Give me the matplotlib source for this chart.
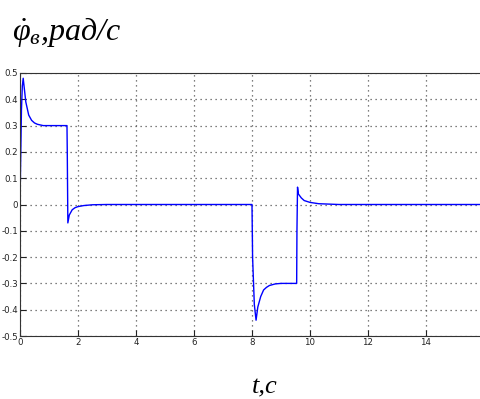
import matplotlib
matplotlib.use('Agg')
import matplotlib.pyplot as plt

# angular velocity response
t = [0, 0.02, 0.05, 0.08, 0.11, 0.15, 0.2, 0.3, 0.4, 0.5, 0.6, 0.8, 1.0,
     1.62, 1.63, 1.65, 1.7, 1.8, 1.9, 2.0, 2.2, 2.5, 3.0,
     8.0, 8.02, 8.08, 8.14, 8.2, 8.3, 8.4, 8.5, 8.6, 8.8, 9.0,
     9.54, 9.55, 9.57, 9.6, 9.7, 9.8, 10.0, 10.3, 11.0, 16.0]
w = [0, 0.15, 0.36, 0.45, 0.48, 0.44, 0.39, 0.34, 0.32, 0.31, 0.305, 0.30, 0.30,
     0.30, 0.20, -0.07, -0.04, -0.02, -0.012, -0.008, -0.004, -0.001, 0,
     0, -0.20, -0.38, -0.44, -0.39, -0.35, -0.325, -0.315, -0.308, -0.302, -0.30,
     -0.30, -0.10, 0.066, 0.04, 0.025, 0.015, 0.008, 0.003, 0, 0]

xticks = [0, 2, 4, 6, 8, 10, 12, 14]
yticks = [-0.5, -0.4, -0.3, -0.2, -0.1, 0, 0.1, 0.2, 0.3, 0.4, 0.5]
ylabels = ['-0.5', '-0.4', '-0.3', '-0.2', '-0.1', '0', '0.1', '0.2', '0.3', '0.4', '0.5']

plt.rcParams['mathtext.fontset'] = 'custom'
plt.rcParams['mathtext.it'] = 'Liberation Serif:italic'
plt.rcParams['mathtext.rm'] = 'Liberation Serif'

fig = plt.figure(figsize=(4.81, 3.99), dpi=100)
ax = fig.add_axes([20 / 481, 63 / 399, 464 / 481, 263 / 399])

ax.plot(t, w, color='#0000ff', linewidth=1.0)

ax.set_xlim(0, 16)
ax.set_ylim(-0.5, 0.5)
ax.set_xticks(xticks)
ax.set_yticks(yticks)
ax.set_yticklabels(ylabels)
ax.tick_params(direction='in', length=4, labelsize=6.2, pad=1.5, colors='#222222')
ax.grid(True, color='#555555', linestyle=(0, (1, 3)), linewidth=0.9)
for s in ax.spines.values():
    s.set_color('#333333')

fig.text(12 / 481, 1 - 40 / 399, r'$\dot{\varphi}_{\mathit{в}}$' + ',' + 'рад/с',
         fontfamily='Liberation Serif', fontstyle='italic', fontsize=23)
fig.text(265 / 481, 1 - 393 / 399, 't,c', ha='center',
         fontfamily='Liberation Serif', fontstyle='italic', fontsize=19)

fig.savefig('out.png', dpi=100)
